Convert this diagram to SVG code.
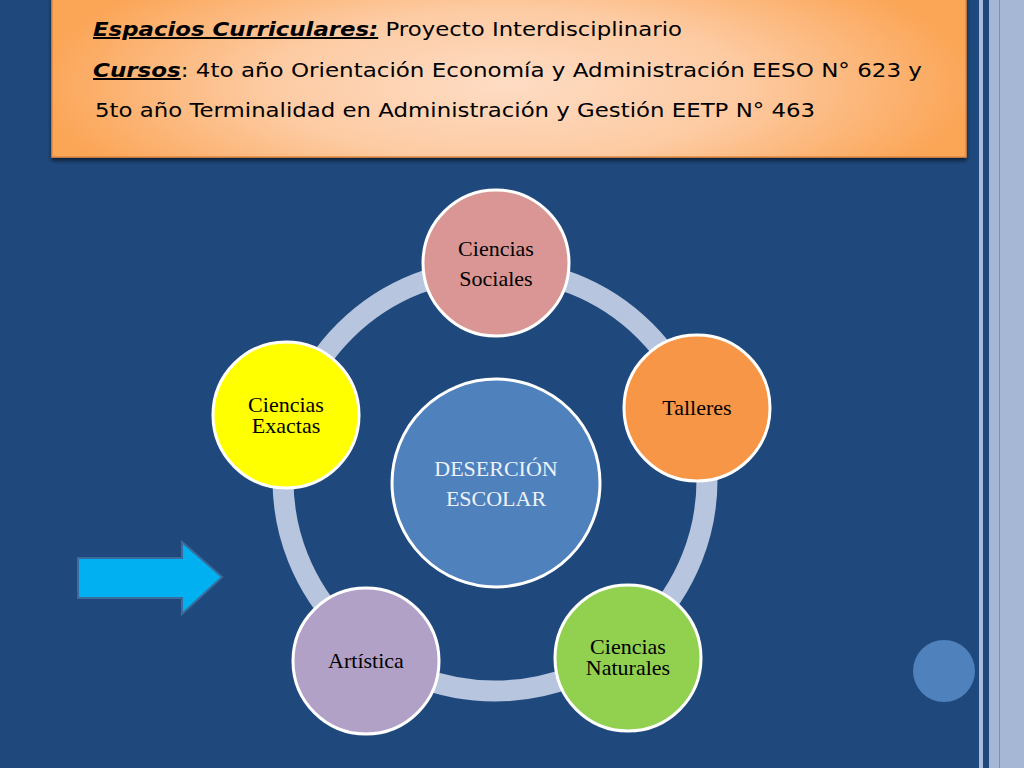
<svg xmlns="http://www.w3.org/2000/svg" width="1024" height="768" viewBox="0 0 1024 768">
<defs>
<radialGradient id="hdr" gradientUnits="userSpaceOnUse" cx="0" cy="0" r="1" gradientTransform="translate(505 85) scale(470 150)">
<stop offset="0" stop-color="#fedcc4"/>
<stop offset="0.5" stop-color="#fdcba3"/>
<stop offset="1" stop-color="#fba556"/>
</radialGradient>
<filter id="sh" x="-5%" y="-10%" width="110%" height="130%">
<feGaussianBlur in="SourceAlpha" stdDeviation="2"/>
<feOffset dx="0" dy="3"/>
<feComponentTransfer><feFuncA type="linear" slope="0.6"/></feComponentTransfer>
<feMerge><feMergeNode/><feMergeNode in="SourceGraphic"/></feMerge>
</filter>
</defs>
<style>
.node{stroke:#ffffff;stroke-width:3}
.lbl{font-family:"Liberation Serif","Times New Roman",serif;font-size:22px;fill:#000000;text-anchor:middle}
.lt{fill:#eef2f8}
.hd{font-family:"DejaVu Sans",Verdana,sans-serif;font-size:20px;fill:#000000}
.hb{font-weight:bold;font-style:italic;text-decoration:underline}
</style>
<rect x="0" y="0" width="1024" height="768" fill="#1f497d"/>
<g id="border">
<rect x="979" y="0" width="4" height="768" fill="#a9bcdc"/>
<rect x="989" y="0" width="35" height="768" fill="#a6b7d5"/>
<rect x="999" y="0" width="1" height="768" fill="#7891b6"/>
</g>
<g id="header">
<rect x="52" y="-3" width="914" height="160" fill="url(#hdr)" stroke="#e08b45" stroke-width="1.5" filter="url(#sh)"/>
<text class="hd" x="93" y="36" textLength="589" lengthAdjust="spacingAndGlyphs"><tspan class="hb">Espacios Curriculares:</tspan> Proyecto Interdisciplinario</text>
<text class="hd" x="93" y="77" textLength="829" lengthAdjust="spacingAndGlyphs"><tspan class="hb">Cursos</tspan>: 4to año Orientación Economía y Administración EESO N° 623 y</text>
<text class="hd" x="95" y="117" textLength="720" lengthAdjust="spacingAndGlyphs">5to año Terminalidad en Administración y Gestión EETP N° 463</text>
</g>
<g id="connectors">
<ellipse cx="495" cy="480" rx="212" ry="211" fill="none" stroke="#b7c5de" stroke-width="21"/>
</g>
<g id="center">
<circle class="node" cx="496" cy="483" r="104" fill="#4f81bd"/>
<text class="lbl lt" x="496" y="476">DESERCIÓN</text>
<text class="lbl lt" x="496" y="506">ESCOLAR</text>
</g>
<g id="sociales">
<circle class="node" cx="496" cy="263" r="73" fill="#d99694"/>
<text class="lbl" x="496" y="256">Ciencias</text>
<text class="lbl" x="496" y="286">Sociales</text>
</g>
<g id="talleres">
<circle class="node" cx="697" cy="408" r="73" fill="#f79646"/>
<text class="lbl" x="697" y="415">Talleres</text>
</g>
<g id="naturales">
<circle class="node" cx="628" cy="658" r="73" fill="#92d050"/>
<text class="lbl" x="628" y="654">Ciencias</text>
<text class="lbl" x="628" y="675">Naturales</text>
</g>
<g id="artistica">
<circle class="node" cx="366" cy="661" r="73" fill="#b2a1c7"/>
<text class="lbl" x="366" y="668">Artística</text>
</g>
<g id="exactas">
<circle class="node" cx="286" cy="415" r="73" fill="#ffff00"/>
<text class="lbl" x="286" y="412">Ciencias</text>
<text class="lbl" x="286" y="433">Exactas</text>
</g>
<g id="arrow">
<polygon points="78,558 182,558 182,542 222,577 182,614 182,598 78,598" fill="#00b0f0" stroke="#3a6b9c" stroke-width="2"/>
</g>
<g id="dot">
<circle cx="944" cy="671" r="31" fill="#4f81bd"/>
</g>
</svg>
